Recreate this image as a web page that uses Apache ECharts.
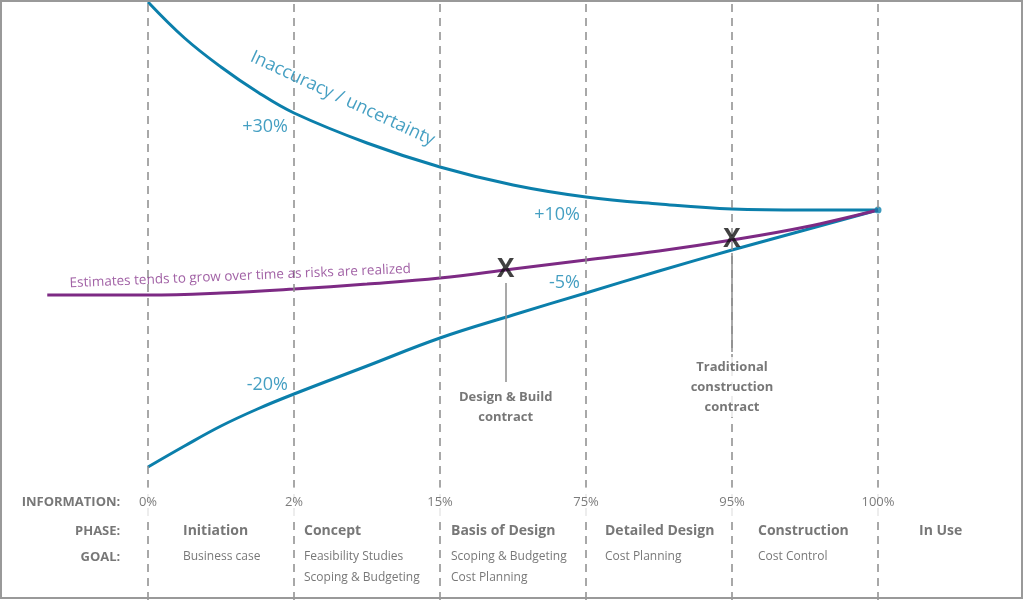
<!DOCTYPE html>
<html>
<head>
<meta charset="utf-8">
<script src="https://cdn.jsdelivr.net/npm/echarts@6/dist/echarts.min.js"></script>
<style>
  html, body { margin: 0; padding: 0; background: #fff; }
  #chart { width: 1024px; height: 600px; }
</style>
</head>
<body>
<div id="chart"></div>
<script>
// phase boundaries (0 = start of Initiation, 5 = handover to In Use)
const stageX = [0, 1, 2, 3, 4, 5]
const infoLabels = ['0%', '2%', '15%', '75%', '95%', '100%']
const phaseNames = ['Initiation', 'Concept', 'Basis of Design', 'Detailed Design', 'Construction', 'In Use']
const goalLine1 = ['Business case', 'Feasibility Studies', 'Scoping & Budgeting', 'Cost Planning', 'Cost Control', '']
const goalLine2 = ['', 'Scoping & Budgeting', 'Cost Planning', '', '', '']
const rowTitles = ['INFORMATION:', 'PHASE:', 'GOAL:']

// curves (0 = final cost)
const curveX = [0, 0.25, 0.5, 0.75, 1, 1.5, 2, 2.5, 3, 3.5, 4, 4.5, 5]
const upperBound = [104, 86, 71.5, 59, 48.5, 33.5, 21.5, 12.5, 6.5, 3, 0.5, 0, 0]
const lowerBound = [-128.5, -118, -108, -99.5, -92, -78, -64, -52.5, -41.5, -30.5, -20, -10, 0]
const estimateX = [-0.69, 0, 0.5, 1, 1.5, 2, 2.5, 3, 3.5, 4, 4.5, 5]
const estimateY = [-42.5, -42.5, -41.5, -39.5, -37, -34, -29.5, -25, -20.5, -15, -8.5, 0]

// accuracy labels on the bounds
const pctLabels = ['+30%', '+10%', '-5%', '-20%']
const pctStage = [1, 3, 3, 1]
const pctCurve = ['upper', 'upper', 'lower', 'lower']

// contract points on the estimate line
const contractX = [2.45, 4]
const contractY = [-30, -15]
const contractNames = ['Design & Build\ncontract', 'Traditional\nconstruction\ncontract']

// layout (px / axis units), not data
const BLUE = '#0b7fab'
const PURPLE = '#7d2a84'
const GRAY = '#555'
const FONT = 'Open Sans'
const rowY = [-146, -160.5, -173.5, -184]
const nameOffset = [35, 10, 11, 19, 26, 41]
const pctOffset = [[0, 14], [0, 18], [0, -10], [0, -9]]
const calloutLen = [49.5, 49.5]

const zip = (xs, ys) => xs.map((x, i) => [x, ys[i]])
const curveY = (name, x) => {
  const arr = name === 'upper' ? upperBound : lowerBound
  return arr[curveX.indexOf(x)]
}
const textItem = (x, y, text, label) => ({ value: [x, y], label: Object.assign({ formatter: text }, label) })

function initChart() {
  const chart = echarts.init(document.getElementById('chart'))

  const texts = []
  // information row
  stageX.forEach((x, i) => {
    texts.push(textItem(x, rowY[0], infoLabels[i], {
      position: 'inside', fontSize: 13, color: '#5a5a5a', backgroundColor: '#fff', padding: [8, 3]
    }))
  })
  // row titles
  rowTitles.forEach((t, i) => {
    texts.push(textItem(-0.19, rowY[i], t, {
      position: 'left', distance: 0, fontSize: 13, fontWeight: 'bold', color: GRAY
    }))
  })
  // phase names and goals
  phaseNames.forEach((name, i) => {
    const base = { position: 'right', distance: 0, offset: [nameOffset[i], 0], color: GRAY }
    texts.push(textItem(stageX[i], rowY[1], name, Object.assign({}, base, { fontSize: 14, fontWeight: 'bold' })))
    if (goalLine1[i]) texts.push(textItem(stageX[i], rowY[2], goalLine1[i], Object.assign({}, base, { fontSize: 12 })))
    if (goalLine2[i]) texts.push(textItem(stageX[i], rowY[3], goalLine2[i], Object.assign({}, base, { fontSize: 12 })))
  })
  // percentages on bounds
  pctLabels.forEach((t, i) => {
    texts.push(textItem(pctStage[i], curveY(pctCurve[i], pctStage[i]), t, {
      position: 'left', distance: 6, offset: pctOffset[i], fontSize: 18, color: '#1787b3'
    }))
  })
  // curve captions
  texts.push(textItem(1.5, curveY('upper', 1.5), 'Inaccuracy / uncertainty', {
    position: 'inside', offset: [-41, -30], rotate: -25, fontSize: 18, color: '#1787b3'
  }))
  texts.push(textItem(estimateX[2], estimateY[2], 'Estimates tends to grow over time as risks are realized', {
    position: 'inside', offset: [20, -16], rotate: 2.4, fontSize: 13.5, color: '#8a3a8f'
  }))
  // contract callout names
  contractNames.forEach((name, i) => {
    texts.push(textItem(contractX[i], contractY[i] - 6.5 - calloutLen[i], name, {
      position: 'bottom', distance: 5, fontSize: 13, fontWeight: 'bold', color: GRAY,
      lineHeight: 20, align: 'center', backgroundColor: '#fff', padding: [0, 4]
    }))
  })

  chart.setOption({
    animation: false,
    textStyle: { fontFamily: FONT },
    grid: { left: 2, right: 0, top: 0, bottom: 0 },
    xAxis: { type: 'value', min: -1, max: 6, interval: 1, show: false },
    yAxis: { type: 'value', min: -195, max: 105, interval: 15, show: false },
    graphic: [{
      type: 'rect', z: 100, silent: true,
      shape: { x: 1, y: 1, width: 1021, height: 597 },
      style: { fill: 'none', stroke: '#999', lineWidth: 2 }
    }],
    series: [
      {
        type: 'line', data: [], z: 1,
        markLine: {
          silent: true, symbol: ['none', 'none'], label: { show: false },
          lineStyle: { type: [8, 6], color: '#8c8c8c', width: 1.5 },
          data: stageX.map(x => ({ xAxis: x }))
        }
      },
      {
        name: 'upper', type: 'line', z: 3, smooth: 0.4, showSymbol: false,
        lineStyle: { color: BLUE, width: 3 }, data: zip(curveX, upperBound)
      },
      {
        name: 'lower', type: 'line', z: 3, smooth: 0.4, showSymbol: false,
        lineStyle: { color: BLUE, width: 3 }, data: zip(curveX, lowerBound)
      },
      {
        name: 'estimate', type: 'line', z: 3, smooth: 0.4, showSymbol: false,
        lineStyle: { color: PURPLE, width: 3 }, data: zip(estimateX, estimateY),
        markLine: {
          silent: true, symbol: ['none', 'none'], label: { show: false },
          lineStyle: { type: 'solid', color: '#8c8c8c', width: 1.5 },
          data: contractX.map((x, i) => [
            { coord: [x, contractY[i] - 6.5] },
            { coord: [x, contractY[i] - 6.5 - calloutLen[i]] }
          ])
        }
      },
      {
        type: 'scatter', z: 4, symbolSize: 7, itemStyle: { color: BLUE },
        data: [[curveX[curveX.length - 1], upperBound[upperBound.length - 1]]]
      },
      {
        type: 'scatter', z: 5, symbolSize: 0,
        label: { show: true, position: 'inside', formatter: 'X', fontSize: 26, fontWeight: 'bold', color: '#111' },
        data: zip(contractX, contractY)
      },
      {
        type: 'scatter', z: 6, symbolSize: 0, silent: true,
        label: { show: true },
        data: texts
      }
    ]
  })
  return chart
}

initChart()
</script>
</body>
</html>
